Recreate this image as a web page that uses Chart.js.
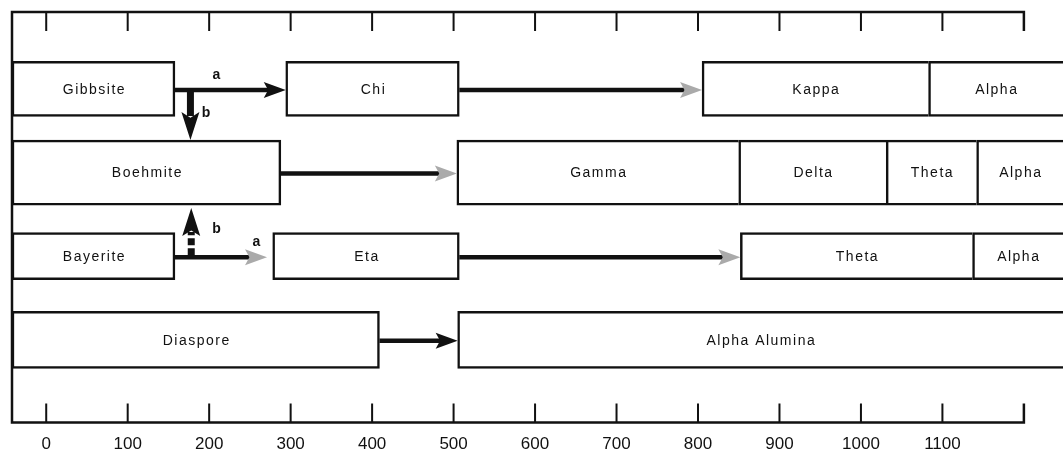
<!DOCTYPE html>
<html>
<head>
<meta charset="utf-8">
<script src="https://cdn.jsdelivr.net/npm/chart.js@4.4.1/dist/chart.umd.min.js"></script>
<style>
  html, body { margin: 0; padding: 0; background: #fff; }
  #wrap { width: 1063px; height: 451px; }
</style>
</head>
<body>
<div id="wrap"><canvas id="aluminaChart"></canvas></div>
<script>
// temperature axis (deg C)
const tickValues = [0, 100, 200, 300, 400, 500, 600, 700, 800, 900, 1000, 1100];
const axisEnd = 1200;

// one row per starting hydroxide, phases from left to right
const rowNames = ['Gibbsite', 'Boehmite', 'Bayerite', 'Diaspore'];
const gibbsitePhases = ['Gibbsite', 'Chi', 'Kappa', 'Alpha'];
const gibbsiteFrom = [-42, 294, 805, 1083];
const gibbsiteTo = [158, 507, 1083, 1260];
const boehmitePhases = ['Boehmite', 'Gamma', 'Delta', 'Theta', 'Alpha'];
const boehmiteFrom = [-42, 504, 850, 1031, 1142];
const boehmiteTo = [288, 850, 1031, 1142, 1260];
const bayeritePhases = ['Bayerite', 'Eta', 'Theta', 'Alpha'];
const bayeriteFrom = [-42, 278, 852, 1137];
const bayeriteTo = [158, 507, 1137, 1260];
const diasporePhases = ['Diaspore', 'Alpha Alumina'];
const diasporeFrom = [-42, 505];
const diasporeTo = [409, 1260];

// horizontal arrows: row, start / end temperature, path tag
const arrowRow = [1, 1, 2, 3, 3, 4];
const arrowFrom = [158, 507, 288, 158, 507, 409];
const arrowTo = [294, 805, 504, 271, 852, 505];
const arrowTag = ['a', '', '', 'a', '', ''];
const arrowTagAt = [209, null, null, 258, null, null];

// vertical arrows (path b)
const bArrowAt = [177, 178];
const bArrowFromRow = [1, 3];
const bArrowToRow = [2, 2];
const bTagAt = [196, 209];

const phaseLists = [gibbsitePhases, boehmitePhases, bayeritePhases, diasporePhases];
const fromLists = [gibbsiteFrom, boehmiteFrom, bayeriteFrom, diasporeFrom];
const toLists = [gibbsiteTo, boehmiteTo, bayeriteTo, diasporeTo];

// styling
const ink = '#111';
const rowThickness = [55, 65, 47, 57];
const headTone = ['#111', '#aaa', '#aaa', '#aaa', '#aaa', '#111'];
const boxFont = '14px "Liberation Sans", Arial, sans-serif';
const tagFont = 'bold 14px "Liberation Sans", Arial, sans-serif';

function rowData(from, to, row) {
  return from.map((f, i) => ({ x: [f, to[i]], y: row }));
}

function drawHead(ctx, x, y, angle, color, len, half) {
  ctx.save();
  ctx.translate(x, y);
  ctx.rotate(angle);
  ctx.fillStyle = color;
  ctx.beginPath();
  ctx.moveTo(0, 0);
  ctx.lineTo(-len, -half);
  ctx.lineTo(-len * 0.8, 0);
  ctx.lineTo(-len, half);
  ctx.closePath();
  ctx.fill();
  ctx.restore();
}

const frame = {
  id: 'frame',
  beforeDatasetsDraw(chart) {
    const { ctx, chartArea: a, scales: { x } } = chart;
    const right = x.getPixelForValue(axisEnd);
    const tick = 19;
    ctx.save();
    ctx.strokeStyle = ink;
    ctx.lineWidth = 2.5;
    ctx.beginPath();
    ctx.moveTo(right, a.top + tick);
    ctx.lineTo(right, a.top);
    ctx.lineTo(a.left, a.top);
    ctx.lineTo(a.left, a.bottom);
    ctx.lineTo(right, a.bottom);
    ctx.lineTo(right, a.bottom - tick);
    ctx.stroke();
    ctx.lineWidth = 2;
    ctx.beginPath();
    tickValues.forEach(v => {
      const px = x.getPixelForValue(v);
      ctx.moveTo(px, a.top);
      ctx.lineTo(px, a.top + tick);
      ctx.moveTo(px, a.bottom);
      ctx.lineTo(px, a.bottom - tick);
    });
    ctx.stroke();
    ctx.restore();
  }
};

const annotate = {
  id: 'annotate',
  afterDatasetsDraw(chart) {
    const { ctx, chartArea: a, scales: { x, y } } = chart;
    ctx.save();

    // phase names inside boxes
    ctx.font = boxFont;
    ctx.fillStyle = ink;
    ctx.textAlign = 'center';
    ctx.textBaseline = 'middle';
    ctx.letterSpacing = '1.5px';
    phaseLists.forEach((names, d) => {
      chart.getDatasetMeta(d).data.forEach((el, i) => {
        const l = Math.max(Math.min(el.base, el.x), a.left);
        const r = Math.min(Math.max(el.base, el.x), a.right);
        ctx.fillText(names[i], (l + r) / 2 + 1, el.y + 1);
      });
    });
    ctx.letterSpacing = '0px';

    // horizontal arrows
    ctx.strokeStyle = ink;
    ctx.lineWidth = 4.5;
    ctx.font = tagFont;
    arrowRow.forEach((row, i) => {
      const py = y.getPixelForValue(row) + 1;
      const x1 = x.getPixelForValue(arrowFrom[i]);
      const x2 = x.getPixelForValue(arrowTo[i]);
      ctx.beginPath();
      ctx.moveTo(x1, py);
      ctx.lineTo(x2 - 16, py);
      ctx.stroke();
      drawHead(ctx, x2, py, 0, headTone[i], 22, 8);
      if (arrowTag[i]) {
        ctx.fillStyle = ink;
        ctx.fillText(arrowTag[i], x.getPixelForValue(arrowTagAt[i]), py - 15);
      }
    });

    // vertical arrows between rows
    bArrowAt.forEach((v, i) => {
      const px = x.getPixelForValue(v);
      const target = chart.getDatasetMeta(bArrowToRow[i] - 1).data[0];
      const down = bArrowToRow[i] > bArrowFromRow[i];
      const y1 = y.getPixelForValue(bArrowFromRow[i]) + (down ? 2 : -1);
      const y2 = down ? target.y - target.height / 2 : target.y + target.height / 2 + 3;
      ctx.save();
      ctx.lineWidth = 7;
      if (!down) ctx.setLineDash([7, 3]);
      ctx.beginPath();
      ctx.moveTo(px, y1);
      ctx.lineTo(px, down ? y2 - 24 : y2 + 24);
      ctx.stroke();
      ctx.restore();
      drawHead(ctx, px, y2, down ? Math.PI / 2 : -Math.PI / 2, ink, 28, 9);
      ctx.fillStyle = ink;
      ctx.fillText('b', x.getPixelForValue(bTagAt[i]), (y1 + y2) / 2 - 2);
    });

    ctx.restore();
  }
};

const ctx = document.getElementById('aluminaChart').getContext('2d');
const aluminaChart = new Chart(ctx, {
  type: 'bar',
  data: {
    datasets: rowNames.map((name, r) => ({
      label: name,
      data: rowData(fromLists[r], toLists[r], r + 1),
      stack: 'rows',
      barThickness: rowThickness[r],
      backgroundColor: '#fff',
      borderColor: ink,
      borderSkipped: false,
      borderWidth: c => {
        const next = fromLists[r][c.dataIndex + 1];
        const touching = next !== undefined && next === toLists[r][c.dataIndex];
        return { top: 2.5, bottom: 2.5, left: 2.5, right: touching ? 0 : 2.5 };
      }
    }))
  },
  options: {
    indexAxis: 'y',
    responsive: true,
    maintainAspectRatio: false,
    animation: false,
    layout: { padding: { left: 12, right: 0, top: 12, bottom: -16 } },
    scales: {
      x: {
        type: 'linear',
        position: 'bottom',
        min: -42,
        max: 1248,
        stacked: false,
        offset: false,
        grid: { display: false, drawTicks: false },
        border: { display: false },
        afterBuildTicks: s => { s.ticks = tickValues.map(v => ({ value: v })); },
        ticks: {
          padding: 12,
          autoSkip: false,
          maxRotation: 0,
          color: ink,
          font: { family: '"Liberation Sans", Arial, sans-serif', size: 17 },
          callback: v => String(v)
        }
      },
      y: {
        type: 'linear',
        reverse: true,
        offset: false,
        min: 0.08,
        max: 4.99,
        stacked: true,
        display: false
      }
    },
    plugins: {
      legend: { display: false },
      tooltip: { enabled: false }
    }
  },
  plugins: [frame, annotate]
});
</script>
</body>
</html>
